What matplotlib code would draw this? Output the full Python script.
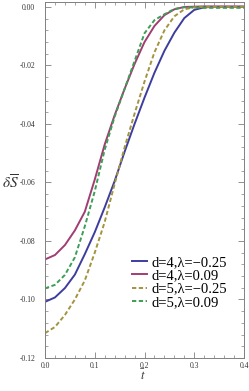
import numpy as np
import matplotlib
matplotlib.use("Agg")
import matplotlib.pyplot as plt
from matplotlib.ticker import MultipleLocator, FormatStrFormatter

# time grid and curves
t = [0.00, 0.02, 0.04, 0.06, 0.08, 0.10, 0.12, 0.14, 0.16, 0.18, 0.20,
     0.22, 0.24, 0.26, 0.28, 0.30, 0.32, 0.34, 0.36, 0.38, 0.40]

s_d4_m025 = [-0.1008, -0.0993, -0.0961, -0.0915, -0.0845, -0.0770, -0.0685,
             -0.0595, -0.0495, -0.0400, -0.0310, -0.0225, -0.0150, -0.0088,
             -0.0038, -0.0010, -0.0001, 0.0, 0.0, 0.0, 0.0]
s_d4_009 = [-0.0863, -0.0848, -0.0814, -0.0764, -0.0700, -0.0590, -0.0470,
            -0.0370, -0.0280, -0.0195, -0.0120, -0.0065, -0.0028, -0.0008,
            0.0000, 0.0001, 0.0002, 0.0002, 0.0002, 0.0002, 0.0002]
s_d5_m025 = [-0.1115, -0.1094, -0.1053, -0.1000, -0.0935, -0.0840, -0.0735,
             -0.0605, -0.0480, -0.0365, -0.0255, -0.0155, -0.0080, -0.0032,
             -0.0008, -0.0001, 0.0, 0.0, 0.0, 0.0, 0.0]
s_d5_009 = [-0.0962, -0.0950, -0.0916, -0.0856, -0.0750, -0.0630, -0.0488,
            -0.0375, -0.0280, -0.0185, -0.0090, -0.0045, -0.0025, -0.0007,
            -0.0001, -0.0002, -0.0003, -0.0003, -0.0003, -0.0003, -0.0003]

labels = ["d=4,λ=−0.25", "d=4,λ=0.09", "d=5,λ=−0.25", "d=5,λ=0.09"]
colors = ["#3d3d9e", "#a03d72", "#a39440", "#3d9e57"]
styles = ["-", "-", "--", "--"]

plt.rcParams["font.family"] = "Liberation Serif"
plt.rcParams["mathtext.fontset"] = "stix"

fig = plt.figure(figsize=(2.49, 3.91), dpi=100)
ax = fig.add_axes([45 / 249, 1 - 358 / 391, 199 / 249, 356.3 / 391])

for y, c, ls, lab in zip([s_d4_m025, s_d4_009, s_d5_m025, s_d5_009], colors, styles, labels):
    line, = ax.plot(t, y, color=c, lw=1.4, ls=ls, label=lab)
    if ls == "--":
        line.set_dashes((2.2, 1.3))

ax.set_xlim(0, 0.4)
ax.set_ylim(-0.12, 0.0018)
ax.xaxis.set_major_locator(MultipleLocator(0.1))
ax.xaxis.set_minor_locator(MultipleLocator(0.02))
ax.yaxis.set_major_locator(MultipleLocator(0.02))
ax.yaxis.set_minor_locator(MultipleLocator(0.004))
ax.xaxis.set_major_formatter(FormatStrFormatter("%.1f"))
ax.yaxis.set_major_formatter(FormatStrFormatter("%.2f"))

for sp in ax.spines.values():
    sp.set_color("#808080")
    sp.set_linewidth(0.7)
ax.tick_params(which="both", direction="in", top=True, right=True,
               color="#808080", labelsize=5.5, labelcolor="#333333")
ax.tick_params(which="major", length=4, width=0.6)
ax.tick_params(which="minor", length=2, width=0.5)
ax.tick_params(axis="y", pad=7)
ax.tick_params(axis="x", pad=3)

fig.text(10 / 249, 1 - 183 / 391, r"$\delta\overline{S}$", fontsize=11,
         ha="center", va="center", color="#333333")
fig.text(143 / 249, 1 - 376 / 391, r"$\bar{t}$", fontsize=9,
         ha="center", va="center", color="#333333")

ax.legend(loc="center left", bbox_to_anchor=(0.437, 0.212), frameon=False,
          fontsize=10.5, handlelength=1.0, handletextpad=0.35,
          labelspacing=0.0, borderpad=0, borderaxespad=0)

fig.savefig("out.png", dpi=100)
